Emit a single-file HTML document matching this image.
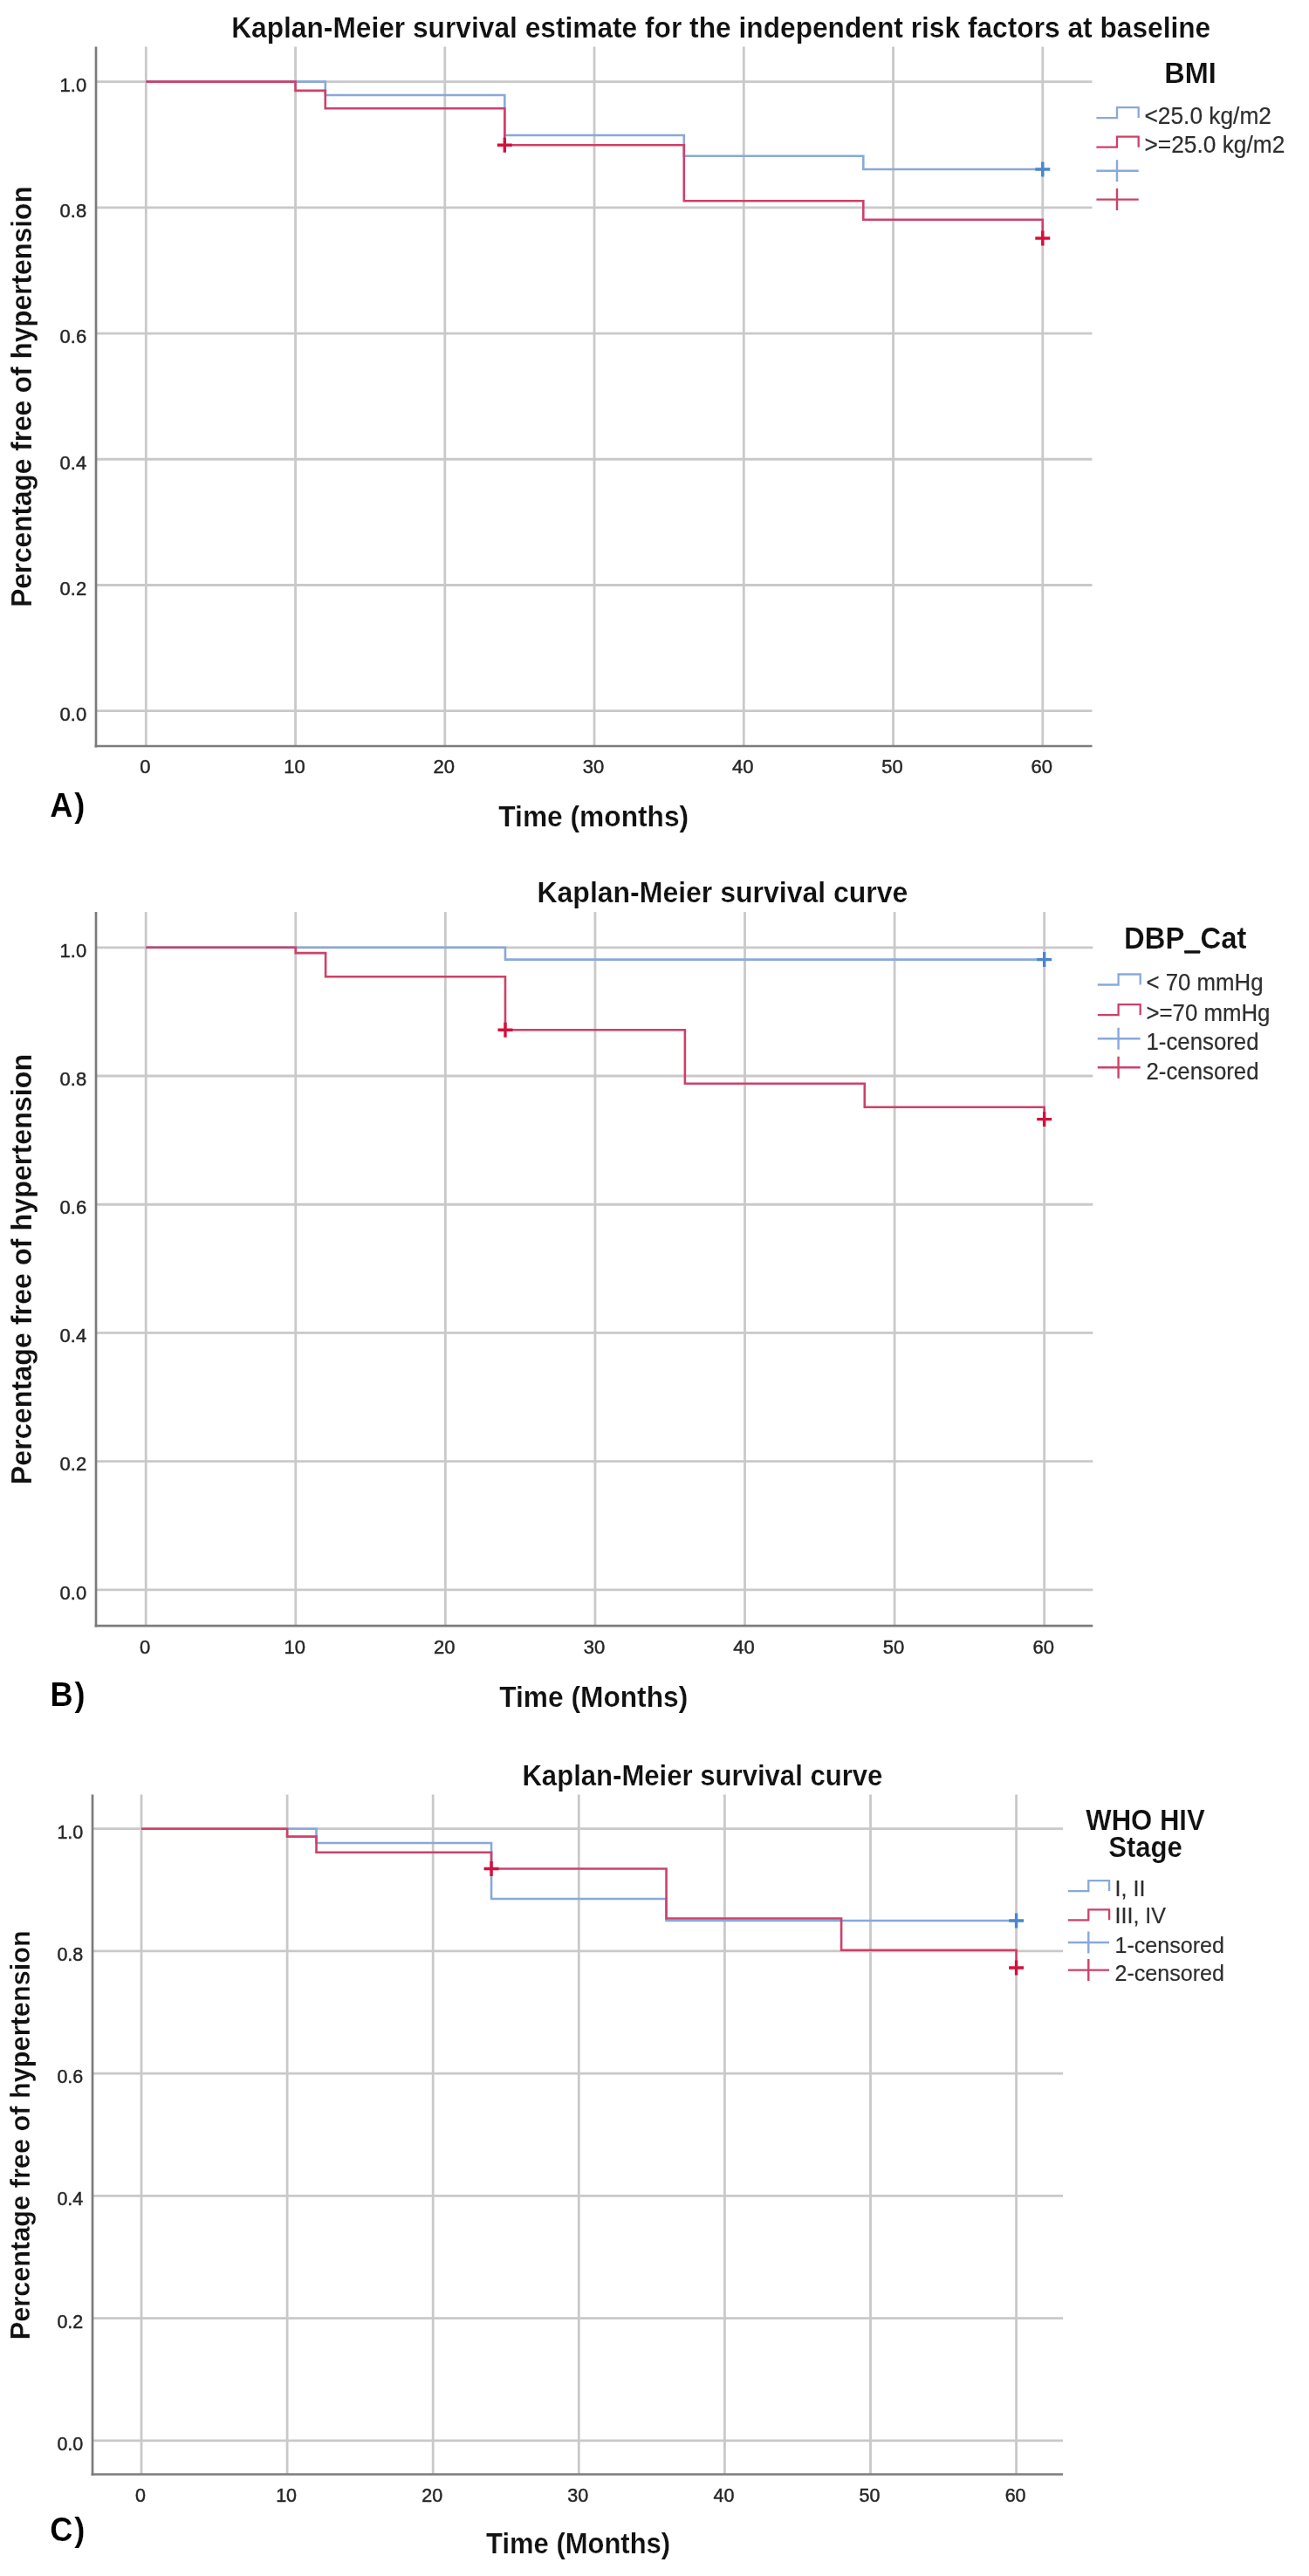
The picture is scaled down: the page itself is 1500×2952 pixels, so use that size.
<!DOCTYPE html>
<html><head><meta charset="utf-8"><title>Kaplan-Meier survival curves</title>
<style>html,body{margin:0;padding:0;background:#fff;} svg{display:block;will-change:transform;} text{font-family:"Liberation Sans", sans-serif;}</style>
</head><body>
<svg width="1500" height="2952" viewBox="0 0 1500 2952">
<rect width="1500" height="2952" fill="#fff"/>
<line x1="110" y1="814.70" x2="1251.5" y2="814.70" stroke="#c9c9c9" stroke-width="2.8"/>
<line x1="110" y1="670.48" x2="1251.5" y2="670.48" stroke="#c9c9c9" stroke-width="2.8"/>
<line x1="110" y1="526.26" x2="1251.5" y2="526.26" stroke="#c9c9c9" stroke-width="2.8"/>
<line x1="110" y1="382.04" x2="1251.5" y2="382.04" stroke="#c9c9c9" stroke-width="2.8"/>
<line x1="110" y1="237.82" x2="1251.5" y2="237.82" stroke="#c9c9c9" stroke-width="2.8"/>
<line x1="110" y1="93.60" x2="1251.5" y2="93.60" stroke="#c9c9c9" stroke-width="2.8"/>
<line x1="167.30" y1="53.5" x2="167.30" y2="855" stroke="#c9c9c9" stroke-width="2.8"/>
<line x1="338.55" y1="53.5" x2="338.55" y2="855" stroke="#c9c9c9" stroke-width="2.8"/>
<line x1="509.80" y1="53.5" x2="509.80" y2="855" stroke="#c9c9c9" stroke-width="2.8"/>
<line x1="681.05" y1="53.5" x2="681.05" y2="855" stroke="#c9c9c9" stroke-width="2.8"/>
<line x1="852.30" y1="53.5" x2="852.30" y2="855" stroke="#c9c9c9" stroke-width="2.8"/>
<line x1="1023.55" y1="53.5" x2="1023.55" y2="855" stroke="#c9c9c9" stroke-width="2.8"/>
<line x1="1194.80" y1="53.5" x2="1194.80" y2="855" stroke="#c9c9c9" stroke-width="2.8"/>
<line x1="110" y1="53.5" x2="110" y2="856.5" stroke="#7c7c7c" stroke-width="2.7"/>
<line x1="108.65" y1="855" x2="1251.5" y2="855" stroke="#7c7c7c" stroke-width="2.7"/>
<text transform="translate(99.20,826.00) scale(1,1.03)" font-size="22" stroke="#262626" stroke-width="0.45" text-anchor="end" fill="#262626">0.0</text>
<text transform="translate(99.20,681.78) scale(1,1.03)" font-size="22" stroke="#262626" stroke-width="0.45" text-anchor="end" fill="#262626">0.2</text>
<text transform="translate(99.20,537.56) scale(1,1.03)" font-size="22" stroke="#262626" stroke-width="0.45" text-anchor="end" fill="#262626">0.4</text>
<text transform="translate(99.20,393.34) scale(1,1.03)" font-size="22" stroke="#262626" stroke-width="0.45" text-anchor="end" fill="#262626">0.6</text>
<text transform="translate(99.20,249.12) scale(1,1.03)" font-size="22" stroke="#262626" stroke-width="0.45" text-anchor="end" fill="#262626">0.8</text>
<text transform="translate(99.20,104.90) scale(1,1.03)" font-size="22" stroke="#262626" stroke-width="0.45" text-anchor="end" fill="#262626">1.0</text>
<text transform="translate(166.30,886.30) scale(1,1.03)" font-size="22" stroke="#262626" stroke-width="0.45" text-anchor="middle" fill="#262626">0</text>
<text transform="translate(337.55,886.30) scale(1,1.03)" font-size="22" stroke="#262626" stroke-width="0.45" text-anchor="middle" fill="#262626">10</text>
<text transform="translate(508.80,886.30) scale(1,1.03)" font-size="22" stroke="#262626" stroke-width="0.45" text-anchor="middle" fill="#262626">20</text>
<text transform="translate(680.05,886.30) scale(1,1.03)" font-size="22" stroke="#262626" stroke-width="0.45" text-anchor="middle" fill="#262626">30</text>
<text transform="translate(851.30,886.30) scale(1,1.03)" font-size="22" stroke="#262626" stroke-width="0.45" text-anchor="middle" fill="#262626">40</text>
<text transform="translate(1022.55,886.30) scale(1,1.03)" font-size="22" stroke="#262626" stroke-width="0.45" text-anchor="middle" fill="#262626">50</text>
<text transform="translate(1193.80,886.30) scale(1,1.03)" font-size="22" stroke="#262626" stroke-width="0.45" text-anchor="middle" fill="#262626">60</text>
<text transform="translate(826.20,43.00) scale(1,1.05)" font-size="31.7" font-weight="bold" stroke="#fff" stroke-width="0.2" text-anchor="middle" fill="#111">Kaplan-Meier survival estimate for the independent risk factors at baseline</text>
<text transform="translate(680.20,947.00) scale(1,1.05)" font-size="31.7" font-weight="bold" stroke="#fff" stroke-width="0.2" text-anchor="middle" fill="#111">Time (months)</text>
<text transform="translate(36.20,454.60) rotate(-90) scale(1,1.05)" font-size="31.6" font-weight="bold" stroke="#fff" stroke-width="0.2" text-anchor="middle" fill="#111">Percentage free of hypertension</text>
<text transform="translate(57.30,935.90) scale(1,1.07)" font-size="36.3" font-weight="bold" stroke="#fff" stroke-width="0.2" letter-spacing="1.8" fill="#000">A)</text>
<path d="M167.30,93.60 H372.80 V109.00 H578.30 V155.00 H783.80 V178.70 H989.30 V194.00 H1194.80 V194.00" fill="none" stroke="#88a9da" stroke-width="2.6" stroke-linejoin="miter"/>
<path d="M167.30,93.60 H338.55 V103.90 H372.80 V124.30 H578.30 V166.30 H783.80 V230.30 H989.30 V251.70 H1194.80 V273.00" fill="none" stroke="#cd4169" stroke-width="2.6" stroke-linejoin="miter"/>
<path d="M1186.30,194.00 H1203.30 M1194.80,185.50 V202.50" stroke="#4a86cc" stroke-width="3.4" fill="none"/>
<path d="M569.80,166.30 H586.80 M578.30,157.80 V174.80" stroke="#d4103c" stroke-width="3.4" fill="none"/>
<path d="M1186.30,273.00 H1203.30 M1194.80,264.50 V281.50" stroke="#d4103c" stroke-width="3.4" fill="none"/>
<text transform="translate(1364.00,95.00) scale(1,1.05)" font-size="32.5" font-weight="bold" stroke="#fff" stroke-width="0.2" text-anchor="middle" fill="#111">BMI</text>
<path d="M1256.4,135.1 H1280 V123.1 H1304.7 V135.1" fill="none" stroke="#88a9da" stroke-width="2.3"/>
<text transform="translate(1311.50,141.70) scale(1,1.05)" font-size="26.3" stroke="#2e2e2e" stroke-width="0.2" fill="#2e2e2e">&lt;25.0 kg/m2</text>
<path d="M1256.4,168.7 H1280 V156.7 H1304.7 V168.7" fill="none" stroke="#cd4169" stroke-width="2.3"/>
<text transform="translate(1311.50,175.30) scale(1,1.05)" font-size="26.3" stroke="#2e2e2e" stroke-width="0.2" fill="#2e2e2e">&gt;=25.0 kg/m2</text>
<path d="M1256.4,195.8 H1304.7 M1280,183.3 V208.3" fill="none" stroke="#88a9da" stroke-width="2.4"/>
<path d="M1256.4,228.6 H1304.7 M1280,216.1 V241.1" fill="none" stroke="#cd4169" stroke-width="2.4"/>
<line x1="110" y1="1821.90" x2="1252.3" y2="1821.90" stroke="#c9c9c9" stroke-width="2.8"/>
<line x1="110" y1="1674.68" x2="1252.3" y2="1674.68" stroke="#c9c9c9" stroke-width="2.8"/>
<line x1="110" y1="1527.46" x2="1252.3" y2="1527.46" stroke="#c9c9c9" stroke-width="2.8"/>
<line x1="110" y1="1380.24" x2="1252.3" y2="1380.24" stroke="#c9c9c9" stroke-width="2.8"/>
<line x1="110" y1="1233.02" x2="1252.3" y2="1233.02" stroke="#c9c9c9" stroke-width="2.8"/>
<line x1="110" y1="1085.80" x2="1252.3" y2="1085.80" stroke="#c9c9c9" stroke-width="2.8"/>
<line x1="167.20" y1="1045" x2="167.20" y2="1863.1" stroke="#c9c9c9" stroke-width="2.8"/>
<line x1="338.78" y1="1045" x2="338.78" y2="1863.1" stroke="#c9c9c9" stroke-width="2.8"/>
<line x1="510.36" y1="1045" x2="510.36" y2="1863.1" stroke="#c9c9c9" stroke-width="2.8"/>
<line x1="681.94" y1="1045" x2="681.94" y2="1863.1" stroke="#c9c9c9" stroke-width="2.8"/>
<line x1="853.52" y1="1045" x2="853.52" y2="1863.1" stroke="#c9c9c9" stroke-width="2.8"/>
<line x1="1025.10" y1="1045" x2="1025.10" y2="1863.1" stroke="#c9c9c9" stroke-width="2.8"/>
<line x1="1196.68" y1="1045" x2="1196.68" y2="1863.1" stroke="#c9c9c9" stroke-width="2.8"/>
<line x1="110" y1="1045" x2="110" y2="1864.6" stroke="#7c7c7c" stroke-width="2.7"/>
<line x1="108.65" y1="1863.1" x2="1252.3" y2="1863.1" stroke="#7c7c7c" stroke-width="2.7"/>
<text transform="translate(99.20,1832.60) scale(1,1.03)" font-size="22" stroke="#262626" stroke-width="0.45" text-anchor="end" fill="#262626">0.0</text>
<text transform="translate(99.20,1685.38) scale(1,1.03)" font-size="22" stroke="#262626" stroke-width="0.45" text-anchor="end" fill="#262626">0.2</text>
<text transform="translate(99.20,1538.16) scale(1,1.03)" font-size="22" stroke="#262626" stroke-width="0.45" text-anchor="end" fill="#262626">0.4</text>
<text transform="translate(99.20,1390.94) scale(1,1.03)" font-size="22" stroke="#262626" stroke-width="0.45" text-anchor="end" fill="#262626">0.6</text>
<text transform="translate(99.20,1243.72) scale(1,1.03)" font-size="22" stroke="#262626" stroke-width="0.45" text-anchor="end" fill="#262626">0.8</text>
<text transform="translate(99.20,1096.50) scale(1,1.03)" font-size="22" stroke="#262626" stroke-width="0.45" text-anchor="end" fill="#262626">1.0</text>
<text transform="translate(166.20,1895.30) scale(1,1.03)" font-size="22" stroke="#262626" stroke-width="0.45" text-anchor="middle" fill="#262626">0</text>
<text transform="translate(337.78,1895.30) scale(1,1.03)" font-size="22" stroke="#262626" stroke-width="0.45" text-anchor="middle" fill="#262626">10</text>
<text transform="translate(509.36,1895.30) scale(1,1.03)" font-size="22" stroke="#262626" stroke-width="0.45" text-anchor="middle" fill="#262626">20</text>
<text transform="translate(680.94,1895.30) scale(1,1.03)" font-size="22" stroke="#262626" stroke-width="0.45" text-anchor="middle" fill="#262626">30</text>
<text transform="translate(852.52,1895.30) scale(1,1.03)" font-size="22" stroke="#262626" stroke-width="0.45" text-anchor="middle" fill="#262626">40</text>
<text transform="translate(1024.10,1895.30) scale(1,1.03)" font-size="22" stroke="#262626" stroke-width="0.45" text-anchor="middle" fill="#262626">50</text>
<text transform="translate(1195.68,1895.30) scale(1,1.03)" font-size="22" stroke="#262626" stroke-width="0.45" text-anchor="middle" fill="#262626">60</text>
<text transform="translate(827.90,1034.00) scale(1,1.05)" font-size="32" font-weight="bold" stroke="#fff" stroke-width="0.2" text-anchor="middle" fill="#111">Kaplan-Meier survival curve</text>
<text transform="translate(680.20,1955.70) scale(1,1.05)" font-size="31.7" font-weight="bold" stroke="#fff" stroke-width="0.2" text-anchor="middle" fill="#111">Time (Months)</text>
<text transform="translate(35.80,1454.50) rotate(-90) scale(1,1.05)" font-size="32.3" font-weight="bold" stroke="#fff" stroke-width="0.2" text-anchor="middle" fill="#111">Percentage free of hypertension</text>
<text transform="translate(57.60,1955.20) scale(1,1.07)" font-size="36.3" font-weight="bold" stroke="#fff" stroke-width="0.2" letter-spacing="1.8" fill="#000">B)</text>
<path d="M167.20,1085.80 H578.99 V1099.60 H1196.68 V1099.60" fill="none" stroke="#88a9da" stroke-width="2.6" stroke-linejoin="miter"/>
<path d="M167.20,1085.80 H338.78 V1092.10 H373.10 V1119.30 H578.99 V1180.30 H784.89 V1241.80 H990.78 V1268.70 H1196.68 V1282.60" fill="none" stroke="#cd4169" stroke-width="2.6" stroke-linejoin="miter"/>
<path d="M1188.18,1099.60 H1205.18 M1196.68,1091.10 V1108.10" stroke="#4a86cc" stroke-width="3.4" fill="none"/>
<path d="M570.49,1180.30 H587.49 M578.99,1171.80 V1188.80" stroke="#d4103c" stroke-width="3.4" fill="none"/>
<path d="M1188.18,1282.60 H1205.18 M1196.68,1274.10 V1291.10" stroke="#d4103c" stroke-width="3.4" fill="none"/>
<text transform="translate(1358.20,1087.00) scale(1,1.05)" font-size="32.8" font-weight="bold" stroke="#fff" stroke-width="0.2" text-anchor="middle" fill="#111">DBP_Cat</text>
<rect x="1357.3" y="1089.2" width="17.8" height="3.4" fill="#111"/>
<path d="M1257.8,1128.5 H1281.6 V1116.5 H1306.7 V1128.5" fill="none" stroke="#88a9da" stroke-width="2.3"/>
<text transform="translate(1313.50,1135.00) scale(1,1.05)" font-size="25.8" stroke="#2e2e2e" stroke-width="0.2" fill="#2e2e2e">&lt; 70 mmHg</text>
<path d="M1257.8,1163.2 H1281.6 V1151.2 H1306.7 V1163.2" fill="none" stroke="#cd4169" stroke-width="2.3"/>
<text transform="translate(1313.50,1169.70) scale(1,1.05)" font-size="25.8" stroke="#2e2e2e" stroke-width="0.2" fill="#2e2e2e">&gt;=70 mmHg</text>
<path d="M1257.8,1190.2 H1306.7 M1281.6,1177.7 V1202.7" fill="none" stroke="#88a9da" stroke-width="2.4"/>
<text transform="translate(1313.50,1202.70) scale(1,1.05)" font-size="25.8" stroke="#2e2e2e" stroke-width="0.2" fill="#2e2e2e">1-censored</text>
<path d="M1257.8,1223.2 H1306.7 M1281.6,1210.7 V1235.7" fill="none" stroke="#cd4169" stroke-width="2.4"/>
<text transform="translate(1313.50,1237.20) scale(1,1.05)" font-size="25.8" stroke="#2e2e2e" stroke-width="0.2" fill="#2e2e2e">2-censored</text>
<line x1="106" y1="2796.90" x2="1218" y2="2796.90" stroke="#c9c9c9" stroke-width="2.8"/>
<line x1="106" y1="2656.66" x2="1218" y2="2656.66" stroke="#c9c9c9" stroke-width="2.8"/>
<line x1="106" y1="2516.42" x2="1218" y2="2516.42" stroke="#c9c9c9" stroke-width="2.8"/>
<line x1="106" y1="2376.18" x2="1218" y2="2376.18" stroke="#c9c9c9" stroke-width="2.8"/>
<line x1="106" y1="2235.94" x2="1218" y2="2235.94" stroke="#c9c9c9" stroke-width="2.8"/>
<line x1="106" y1="2095.70" x2="1218" y2="2095.70" stroke="#c9c9c9" stroke-width="2.8"/>
<line x1="162.00" y1="2056.6" x2="162.00" y2="2835.5" stroke="#c9c9c9" stroke-width="2.8"/>
<line x1="329.10" y1="2056.6" x2="329.10" y2="2835.5" stroke="#c9c9c9" stroke-width="2.8"/>
<line x1="496.20" y1="2056.6" x2="496.20" y2="2835.5" stroke="#c9c9c9" stroke-width="2.8"/>
<line x1="663.30" y1="2056.6" x2="663.30" y2="2835.5" stroke="#c9c9c9" stroke-width="2.8"/>
<line x1="830.40" y1="2056.6" x2="830.40" y2="2835.5" stroke="#c9c9c9" stroke-width="2.8"/>
<line x1="997.50" y1="2056.6" x2="997.50" y2="2835.5" stroke="#c9c9c9" stroke-width="2.8"/>
<line x1="1164.60" y1="2056.6" x2="1164.60" y2="2835.5" stroke="#c9c9c9" stroke-width="2.8"/>
<line x1="106" y1="2056.6" x2="106" y2="2837.0" stroke="#7c7c7c" stroke-width="2.7"/>
<line x1="104.65" y1="2835.5" x2="1218" y2="2835.5" stroke="#7c7c7c" stroke-width="2.7"/>
<text transform="translate(95.30,2807.90) scale(1,1.03)" font-size="21.5" stroke="#262626" stroke-width="0.45" text-anchor="end" fill="#262626">0.0</text>
<text transform="translate(95.30,2667.66) scale(1,1.03)" font-size="21.5" stroke="#262626" stroke-width="0.45" text-anchor="end" fill="#262626">0.2</text>
<text transform="translate(95.30,2527.42) scale(1,1.03)" font-size="21.5" stroke="#262626" stroke-width="0.45" text-anchor="end" fill="#262626">0.4</text>
<text transform="translate(95.30,2387.18) scale(1,1.03)" font-size="21.5" stroke="#262626" stroke-width="0.45" text-anchor="end" fill="#262626">0.6</text>
<text transform="translate(95.30,2246.94) scale(1,1.03)" font-size="21.5" stroke="#262626" stroke-width="0.45" text-anchor="end" fill="#262626">0.8</text>
<text transform="translate(95.30,2106.70) scale(1,1.03)" font-size="21.5" stroke="#262626" stroke-width="0.45" text-anchor="end" fill="#262626">1.0</text>
<text transform="translate(161.00,2866.70) scale(1,1.03)" font-size="21.5" stroke="#262626" stroke-width="0.45" text-anchor="middle" fill="#262626">0</text>
<text transform="translate(328.10,2866.70) scale(1,1.03)" font-size="21.5" stroke="#262626" stroke-width="0.45" text-anchor="middle" fill="#262626">10</text>
<text transform="translate(495.20,2866.70) scale(1,1.03)" font-size="21.5" stroke="#262626" stroke-width="0.45" text-anchor="middle" fill="#262626">20</text>
<text transform="translate(662.30,2866.70) scale(1,1.03)" font-size="21.5" stroke="#262626" stroke-width="0.45" text-anchor="middle" fill="#262626">30</text>
<text transform="translate(829.40,2866.70) scale(1,1.03)" font-size="21.5" stroke="#262626" stroke-width="0.45" text-anchor="middle" fill="#262626">40</text>
<text transform="translate(996.50,2866.70) scale(1,1.03)" font-size="21.5" stroke="#262626" stroke-width="0.45" text-anchor="middle" fill="#262626">50</text>
<text transform="translate(1163.60,2866.70) scale(1,1.03)" font-size="21.5" stroke="#262626" stroke-width="0.45" text-anchor="middle" fill="#262626">60</text>
<text transform="translate(804.90,2046.40) scale(1,1.05)" font-size="31.1" font-weight="bold" stroke="#fff" stroke-width="0.2" text-anchor="middle" fill="#111">Kaplan-Meier survival curve</text>
<text transform="translate(662.60,2925.80) scale(1,1.05)" font-size="31" font-weight="bold" stroke="#fff" stroke-width="0.2" text-anchor="middle" fill="#111">Time (Months)</text>
<text transform="translate(34.20,2446.80) rotate(-90) scale(1,1.05)" font-size="30.7" font-weight="bold" stroke="#fff" stroke-width="0.2" text-anchor="middle" fill="#111">Percentage free of hypertension</text>
<text transform="translate(57.30,2912.30) scale(1,1.07)" font-size="36.3" font-weight="bold" stroke="#fff" stroke-width="0.2" letter-spacing="1.8" fill="#000">C)</text>
<path d="M162.00,2095.70 H362.52 V2112.00 H563.04 V2176.00 H763.56 V2201.00 H1164.60 V2201.00" fill="none" stroke="#88a9da" stroke-width="2.6" stroke-linejoin="miter"/>
<path d="M162.00,2095.70 H329.10 V2104.60 H362.52 V2122.80 H563.04 V2141.50 H763.56 V2198.50 H964.08 V2234.80 H1164.60 V2255.00" fill="none" stroke="#cd4169" stroke-width="2.6" stroke-linejoin="miter"/>
<path d="M1156.10,2201.00 H1173.10 M1164.60,2192.50 V2209.50" stroke="#4a86cc" stroke-width="3.4" fill="none"/>
<path d="M554.54,2141.50 H571.54 M563.04,2133.00 V2150.00" stroke="#d4103c" stroke-width="3.4" fill="none"/>
<path d="M1156.10,2255.00 H1173.10 M1164.60,2246.50 V2263.50" stroke="#d4103c" stroke-width="3.4" fill="none"/>
<text transform="translate(1312.50,2096.50) scale(1,1.05)" font-size="31.1" font-weight="bold" stroke="#fff" stroke-width="0.2" text-anchor="middle" fill="#111">WHO HIV</text>
<text transform="translate(1312.50,2127.80) scale(1,1.05)" font-size="31.1" font-weight="bold" stroke="#fff" stroke-width="0.2" text-anchor="middle" fill="#111">Stage</text>
<path d="M1223.8,2167.1 H1247.3 V2155.1 H1271.1 V2167.1" fill="none" stroke="#88a9da" stroke-width="2.3"/>
<text transform="translate(1277.50,2173.30) scale(1,1.05)" font-size="25.1" stroke="#2e2e2e" stroke-width="0.2" fill="#2e2e2e">I, II</text>
<path d="M1223.8,2200.3 H1247.3 V2188.3 H1271.1 V2200.3" fill="none" stroke="#cd4169" stroke-width="2.3"/>
<text transform="translate(1277.50,2204.00) scale(1,1.05)" font-size="25.1" stroke="#2e2e2e" stroke-width="0.2" fill="#2e2e2e">III, IV</text>
<path d="M1223.8,2226 H1271.1 M1247.3,2213.5 V2238.5" fill="none" stroke="#88a9da" stroke-width="2.4"/>
<text transform="translate(1277.50,2238.20) scale(1,1.05)" font-size="25.1" stroke="#2e2e2e" stroke-width="0.2" fill="#2e2e2e">1-censored</text>
<path d="M1223.8,2257.6 H1271.1 M1247.3,2245.1 V2270.1" fill="none" stroke="#cd4169" stroke-width="2.4"/>
<text transform="translate(1277.50,2269.80) scale(1,1.05)" font-size="25.1" stroke="#2e2e2e" stroke-width="0.2" fill="#2e2e2e">2-censored</text>
</svg>
</body></html>
